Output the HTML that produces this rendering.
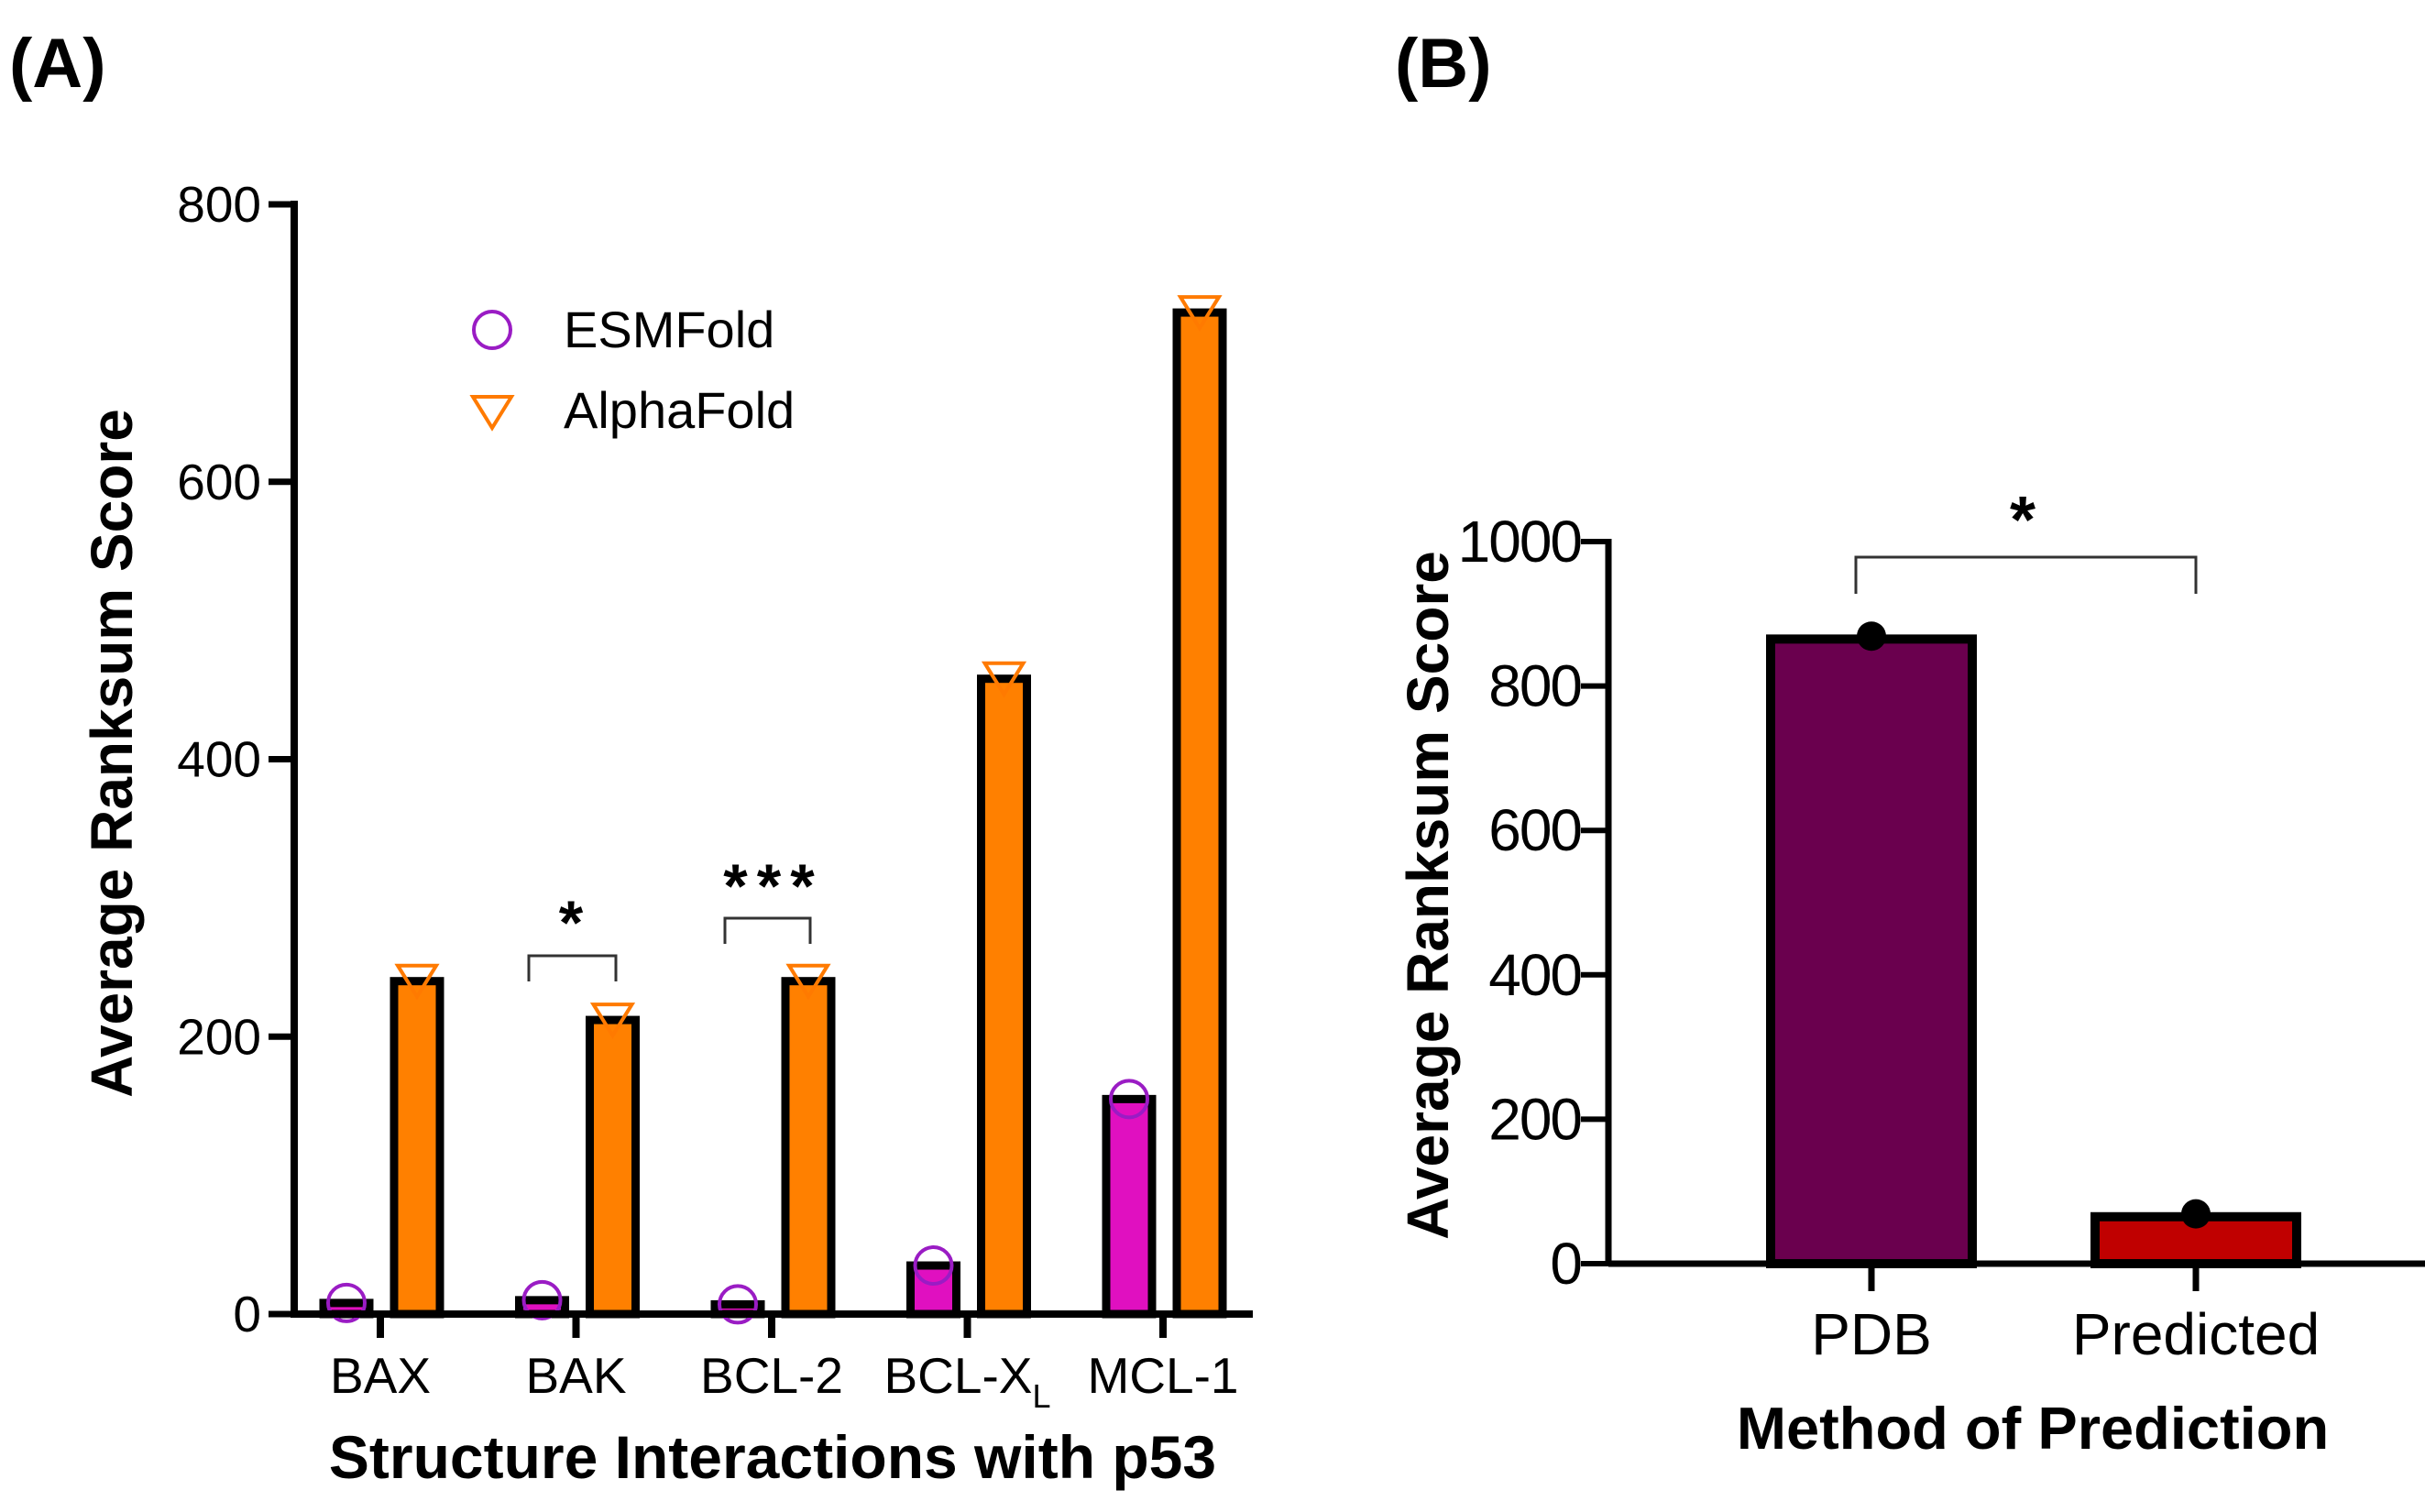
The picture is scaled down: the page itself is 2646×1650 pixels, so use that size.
<!DOCTYPE html>
<html><head><meta charset="utf-8"><style>
body{margin:0;background:#fff}
svg{display:block}
text{font-family:"Liberation Sans",Arial,sans-serif;fill:#000}
</style></head><body>
<svg id="s" width="2646" height="1650" viewBox="0 0 2646 1650" xmlns="http://www.w3.org/2000/svg">
<text x="10" y="95" font-size="76" font-weight="bold">(A)</text>
<text x="1522" y="95" font-size="76" font-weight="bold">(B)</text>
<g id="ga"></g>
<g id="gb"></g>
</svg>
<script>
const catsA=["BAX","BAK","BCL-2","BCL-X","MCL-1"];
const esmVals=[8,10,7,35,155];
const afVals=[240,212,240,458,722];
const ticksA=[0,200,400,600,800];
const catsB=["PDB","Predicted"];
const valsB=[865,65];
const ticksB=[0,200,400,600,800,1000];

const NS="http://www.w3.org/2000/svg";
function mk(p,tag,attrs,txt){const e=document.createElementNS(NS,tag);for(const k in attrs)e.setAttribute(k,attrs[k]);if(txt!==undefined)e.textContent=txt;p.appendChild(e);return e;}

// Chart A
const ga=document.getElementById('ga');
const ax0=321, axEnd=1367, ay0=1434, ay800=223;
const yA=v=>ay0-(ay0-ay800)*v/800;
const xA=i=>415+i*213.5;
const bw=50;
catsA.forEach((c,i)=>{
  const cx=xA(i);
  let r=mk(ga,'rect',{x:cx-37-bw/2,y:yA(esmVals[i]),width:bw,height:ay0-yA(esmVals[i]),fill:'#e010c0',stroke:'#000','stroke-width':9});
  
  r=mk(ga,'rect',{x:cx+40-bw/2,y:yA(afVals[i]),width:bw,height:ay0-yA(afVals[i]),fill:'#ff8000',stroke:'#000','stroke-width':9});
  
  let m=mk(ga,'circle',{cx:cx-37,cy:yA(esmVals[i]),r:20,fill:'none',stroke:'#9a1cc4','stroke-width':4});
  
  const ty=yA(afVals[i])-2;
  m=mk(ga,'polygon',{points:`${cx+40-21},${ty-15} ${cx+40+21},${ty-15} ${cx+40},${ty+19}`,fill:'none',stroke:'#ff7a00','stroke-width':4});
  
  mk(ga,'line',{x1:cx,y1:ay0,x2:cx,y2:ay0+26,stroke:'#000','stroke-width':8});
  const t=mk(ga,'text',{x:cx,y:1520,'font-size':55,'text-anchor':'middle'},c);
  if(c==="BCL-X"){mk(t,'tspan',{'font-size':36,dy:16},'L');}
  
});
mk(ga,'line',{x1:ax0,y1:ay0,x2:axEnd,y2:ay0,stroke:'#000','stroke-width':8});
mk(ga,'line',{x1:ax0,y1:ay800-4,x2:ax0,y2:ay0+4,stroke:'#000','stroke-width':8});
ticksA.forEach(v=>{
  mk(ga,'line',{x1:ax0-28,y1:yA(v),x2:ax0,y2:yA(v),stroke:'#000','stroke-width':7});
  const t=mk(ga,'text',{x:ax0-36,y:yA(v)+19,'font-size':55,'text-anchor':'end'},v);
  
});
let tt=mk(ga,'text',{x:843,y:1613,'font-size':66,'font-weight':'bold','text-anchor':'middle'},'Structure Interactions with p53');

tt=mk(ga,'text',{x:0,y:0,'font-size':64,'font-weight':'bold','text-anchor':'middle',transform:'translate(144,822) rotate(-90)'},'Average Ranksum Score');

// legend
let lg=mk(ga,'g',{});
mk(lg,'circle',{cx:537,cy:360,r:20,fill:'none',stroke:'#9a1cc4','stroke-width':4});
mk(lg,'text',{x:615,y:379,'font-size':56},'ESMFold');
lg=mk(ga,'g',{});
mk(lg,'polygon',{points:'516,433 558,433 537,467',fill:'none',stroke:'#ff7a00','stroke-width':4});
mk(lg,'text',{x:615,y:467,'font-size':56},'AlphaFold');
// brackets
function bracket(g,x1,x2,y,leg,label,lx,ly,fs){
  mk(g,'path',{d:`M${x1},${y+leg} V${y} H${x2} V${y+leg}`,fill:'none',stroke:'#333','stroke-width':3});
  mk(g,'text',{x:lx,y:ly,'font-size':fs,'font-weight':'bold','text-anchor':'middle','letter-spacing':10},label);
}
bracket(ga,577,672,1043,28,'*',628,1030,68);
bracket(ga,791,884,1002,28,'***',844,990,68);

// Chart B
const gb=document.getElementById('gb');
const bx0=1755,bxEnd=2646,by0=1379,by1000=591;
const yB=v=>by0-(by0-by1000)*v/1000;
const xB=i=>2042+i*354;
const colsB=['#6a004e','#c00000'];
catsB.forEach((c,i)=>{
  const cx=xB(i);
  let r=mk(gb,'rect',{x:cx-110,y:yB(valsB[i]),width:220,height:by0-yB(valsB[i]),fill:colsB[i],stroke:'#000','stroke-width':10});
  
  let d=mk(gb,'circle',{cx:cx,cy:yB(valsB[i]+4),r:16,fill:'#000'});
  
  mk(gb,'line',{x1:cx,y1:by0,x2:cx,y2:by0+30,stroke:'#000','stroke-width':7});
  const t=mk(gb,'text',{x:cx,y:1478,'font-size':64,'text-anchor':'middle'},c);
  
});
mk(gb,'line',{x1:bx0,y1:by0,x2:bxEnd,y2:by0,stroke:'#000','stroke-width':7});
mk(gb,'line',{x1:bx0,y1:by1000-3,x2:bx0,y2:by0+3,stroke:'#000','stroke-width':7});
ticksB.forEach(v=>{
  mk(gb,'line',{x1:bx0-30,y1:yB(v),x2:bx0,y2:yB(v),stroke:'#000','stroke-width':6});
  const t=mk(gb,'text',{x:bx0-30,y:yB(v)+22,'font-size':64,'text-anchor':'end','letter-spacing':-2},v);
  
});
tt=mk(gb,'text',{x:2218,y:1581,'font-size':65,'font-weight':'bold','text-anchor':'middle'},'Method of Prediction');

tt=mk(gb,'text',{x:0,y:0,'font-size':64,'font-weight':'bold','text-anchor':'middle',transform:'translate(1580,977) rotate(-90)'},'Average Ranksum Score');

bracket(gb,2025,2396,608,40,'*',2212,592,72);
</script>
</body></html>
